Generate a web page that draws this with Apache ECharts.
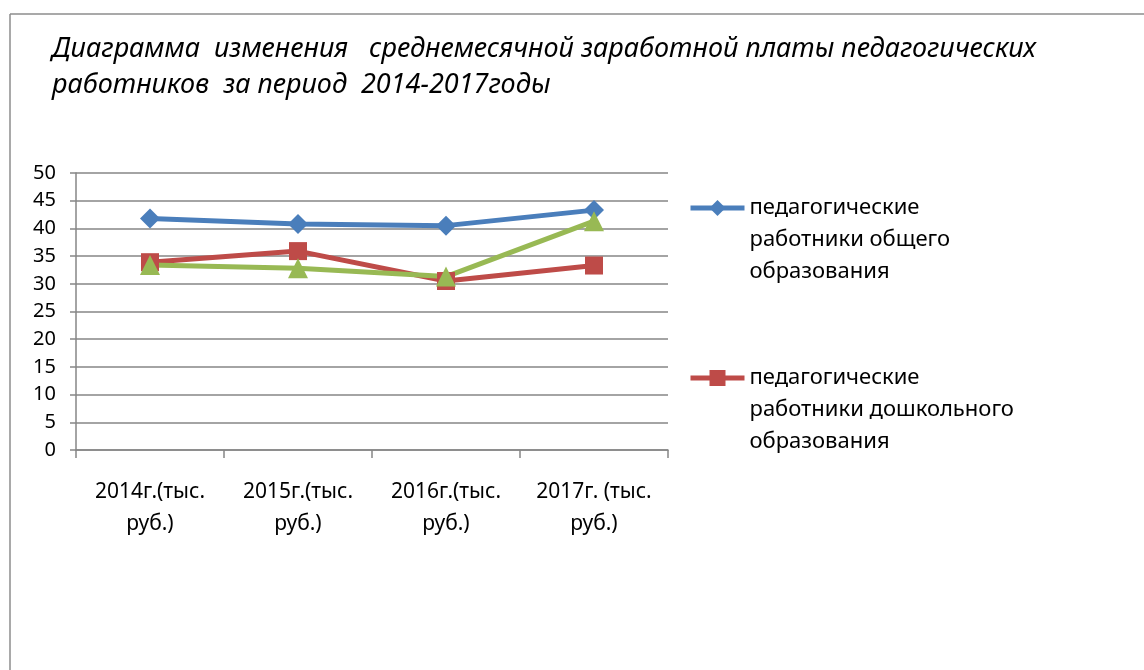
<!DOCTYPE html>
<html>
<head>
<meta charset="utf-8">
<script src="https://cdn.jsdelivr.net/npm/echarts@6/dist/echarts.min.js"></script>
<style>
  html, body { margin: 0; padding: 0; background: #fff; }
  #chart { width: 1144px; height: 670px; }
</style>
</head>
<body>
<div id="chart"></div>
<script>
// данные
const categories = ['2014г.(тыс.\nруб.)', '2015г.(тыс.\nруб.)', '2016г.(тыс.\nруб.)', '2017г. (тыс.\nруб.)'];
const seriesNames = [
  'педагогические\nработники общего\nобразования',
  'педагогические\nработники дошкольного\nобразования',
  'педагогические\nработники дополнительного\nобразования'
];
const generalEdu = [41.8, 40.8, 40.5, 43.3];
const preschoolEdu = [33.9, 35.9, 30.5, 33.3];
const additionalEdu = [33.4, 32.8, 31.3, 41.3];
const yTicks = { min: 0, max: 50, interval: 5 };

const FONT = '"Noto Sans", "DejaVu Sans", sans-serif';
const chart = echarts.init(document.getElementById('chart'));

const option = {
  backgroundColor: '#fff',
  animation: false,
  title: {
    text: 'Диаграмма  изменения   среднемесячной заработной платы педагогических\nработников  за период  2014-2017годы',
    left: 47,
    top: 26,
    textStyle: {
      fontFamily: FONT,
      fontStyle: 'italic',
      fontWeight: 'normal',
      fontSize: 27,
      lineHeight: 36,
      color: '#000'
    }
  },
  legend: {
    orient: 'vertical',
    left: 688,
    top: 128,
    padding: 0,
    itemWidth: 54,
    itemHeight: 20,
    itemGap: 10,
    data: [seriesNames[0], seriesNames[1]],
    // две пустые строки сверху, чтобы значок стоял на уровне первой строки
    formatter: name => '\n\n' + name,
    lineStyle: { width: 5 },
    textStyle: {
      fontFamily: FONT,
      fontSize: 22,
      lineHeight: 32,
      color: '#000'
    }
  },
  grid: { left: 76, right: 476, top: 173, bottom: 220 },
  xAxis: {
    type: 'category',
    data: categories,
    boundaryGap: true,
    axisLine: { lineStyle: { color: '#868686', width: 1.5 } },
    axisTick: { show: true, length: 8, interval: 0, lineStyle: { color: '#868686', width: 1.5 } },
    axisLabel: {
      interval: 0,
      margin: 26,
      fontFamily: FONT,
      fontSize: 21,
      lineHeight: 32,
      color: '#000',
      align: 'center'
    }
  },
  yAxis: {
    type: 'value',
    min: yTicks.min,
    max: yTicks.max,
    interval: yTicks.interval,
    axisLine: { show: true, lineStyle: { color: '#868686', width: 1.5 } },
    axisTick: { show: true, length: 6, lineStyle: { color: '#868686', width: 1.5 } },
    splitLine: { lineStyle: { color: '#868686', width: 1.5 } },
    axisLabel: {
      margin: 20,
      fontFamily: FONT,
      fontSize: 20,
      color: '#000'
    }
  },
  series: [
    {
      name: seriesNames[0],
      type: 'line',
      data: generalEdu,
      symbol: 'diamond',
      symbolSize: 20,
      color: '#4a7ebb',
      lineStyle: { width: 5, color: '#4a7ebb' },
      itemStyle: { color: '#4a7ebb' }
    },
    {
      name: seriesNames[1],
      type: 'line',
      data: preschoolEdu,
      symbol: 'rect',
      symbolSize: 18,
      color: '#be4b48',
      lineStyle: { width: 5, color: '#be4b48' },
      itemStyle: { color: '#be4b48' }
    },
    {
      name: seriesNames[2],
      type: 'line',
      data: additionalEdu,
      symbol: 'triangle',
      symbolSize: 20,
      color: '#98b954',
      lineStyle: { width: 5, color: '#98b954' },
      itemStyle: { color: '#98b954' }
    }
  ],
  graphic: [
    // рамка диаграммы
    { type: 'line', shape: { x1: 10, y1: 14, x2: 1144, y2: 14 }, style: { stroke: '#8c8c8c', lineWidth: 1.5 } },
    { type: 'line', shape: { x1: 10, y1: 14, x2: 10, y2: 670 }, style: { stroke: '#8c8c8c', lineWidth: 1.5 } }
  ]
};

chart.setOption(option);
</script>
</body>
</html>
